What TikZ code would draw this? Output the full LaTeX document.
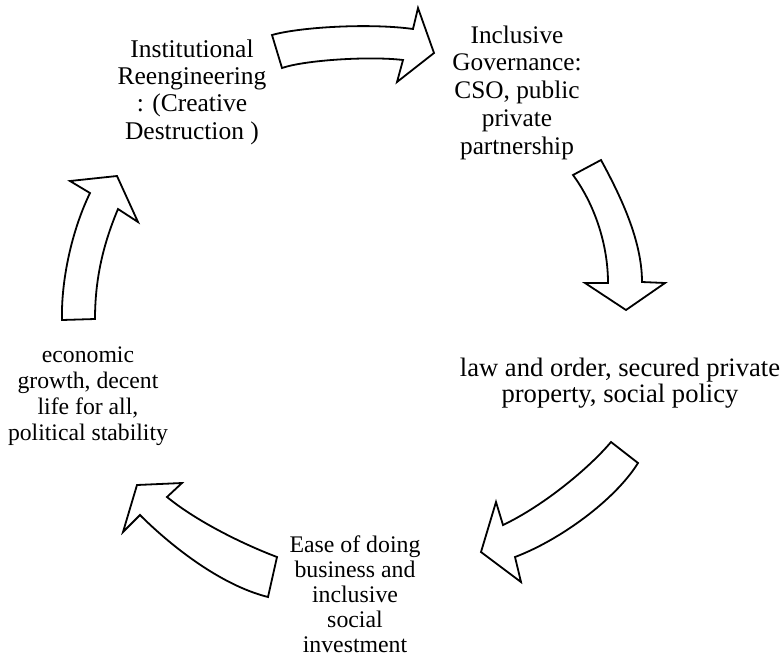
\documentclass[tikz,border=0pt]{standalone}
\usepackage{fontspec}
\setmainfont{Liberation Serif}
\tikzset{
  blockarrow/.style={draw=black, fill=white, line width=1.8pt, line join=miter},
  lbl/.style={align=center, inner sep=0pt, anchor=base, text=black},
}
\begin{document}
\begin{tikzpicture}[x=1pt,y=-1pt]
\useasboundingbox (0,0) rectangle (783,656);
% text blocks (anchor = baseline of the last line)
\node[lbl, font=\fontsize{25.5}{27.2}\selectfont] (inst) at (192,139) {Institutional\\Reengineering\\: (Creative\\Destruction )};
\node[lbl, font=\fontsize{25.3}{27.7}\selectfont] (incl) at (517,154) {Inclusive\\Governance:\\CSO, public\\private\\partnership};
\node[lbl, font=\fontsize{26.6}{23}\selectfont] (law) at (620,402) {law and order, secured private\\property, social policy};
\node[lbl, font=\fontsize{23.7}{25.7}\selectfont] (econ) at (88,440) {economic\\growth, decent\\life for all,\\political stability};
\node[lbl, font=\fontsize{23.8}{24.8}\selectfont] (ease) at (355,652) {Ease of doing\\business and\\inclusive\\social\\investment};
% arrow 1: top, to the right
\draw[blockarrow] (272,35) .. controls (300,27) and (370,23) .. (413,29)
  -- (418,8) -- (434,53) -- (397,82) -- (403,60)
  .. controls (370,56) and (305,60) .. (282,68) -- cycle;
% arrow 2: right, downward
\draw[blockarrow] (573,175) -- (601,160) .. controls (620,195) and (642,240) .. (642,282)
  -- (665,283) -- (626,310) -- (585,283) -- (608,283)
  .. controls (608,245) and (595,205) .. (573,175) -- cycle;
% arrow 3: lower right, down-left
\draw[blockarrow] (611,442) .. controls (590,467) and (545,505) .. (503,525)
  -- (496,502) -- (481,552) -- (521,582) -- (515,557)
  .. controls (560,540) and (615,500) .. (638,463) -- cycle;
% arrow 4: bottom left, up-left
\draw[blockarrow] (277,557) .. controls (240,543) and (195,520) .. (167,497)
  -- (182,483) -- (137,485) -- (123,532) -- (140,515)
  .. controls (170,545) and (220,585) .. (268,597) -- cycle;
% arrow 5: left, upward
\draw[blockarrow] (62,320) -- (95,319) .. controls (95,275) and (105,240) .. (118,209)
  -- (138,222) -- (117,176) -- (70,181) -- (90,193)
  .. controls (72,230) and (61,280) .. (62,320) -- cycle;
\end{tikzpicture}
\end{document}
